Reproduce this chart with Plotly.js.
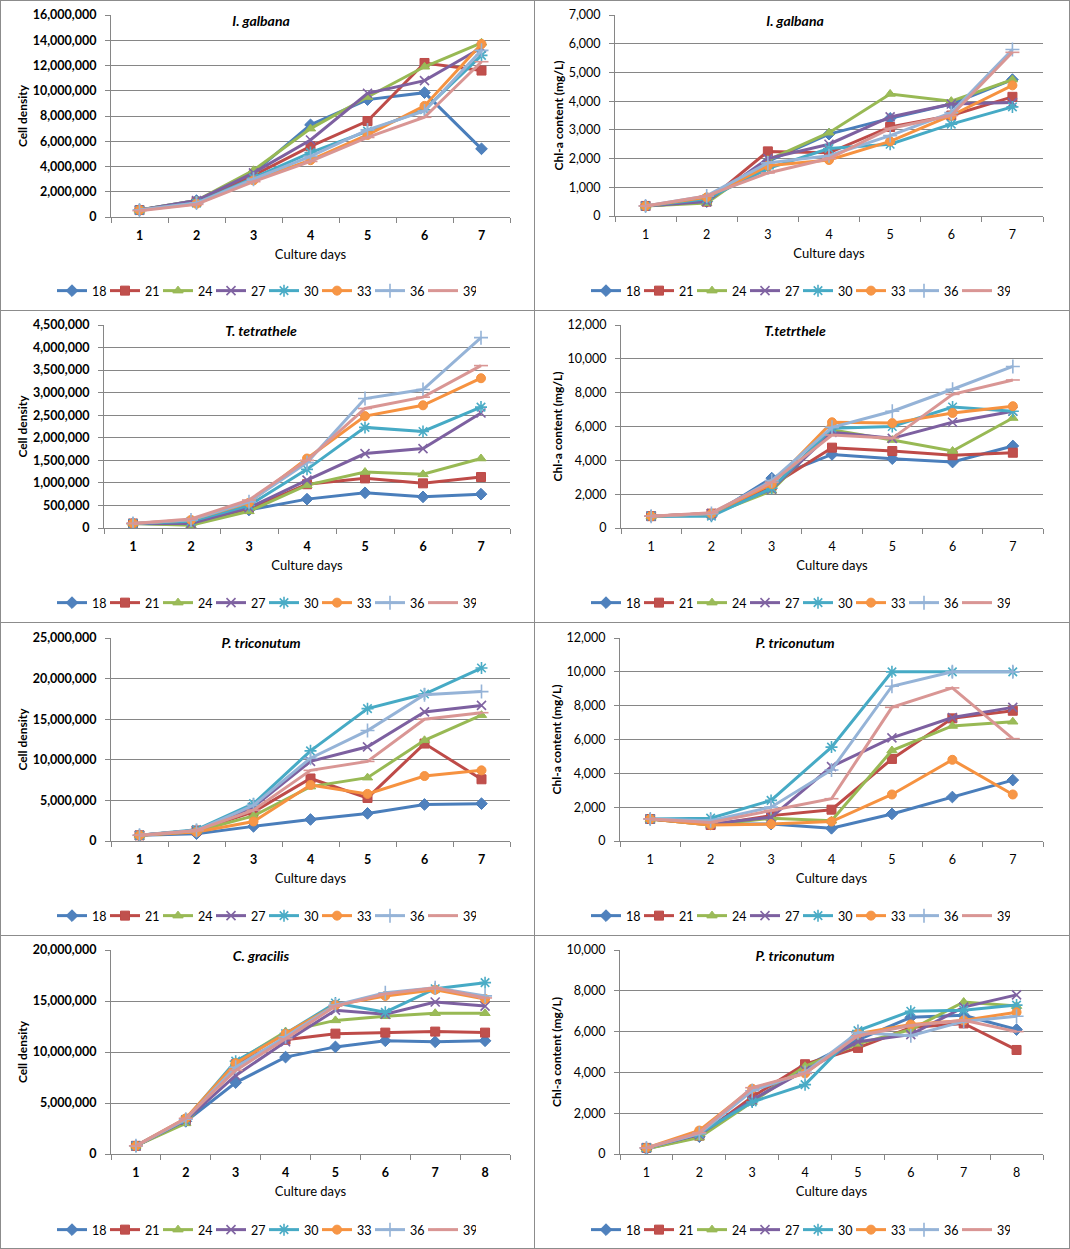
<!DOCTYPE html>
<html><head><meta charset="utf-8">
<script src="https://cdn.plot.ly/plotly-3.0.1.min.js"></script>
<style>
body{margin:0;background:#fff;}
#wrap{position:relative;width:1070px;height:1249px;overflow:hidden;background:#fff;}
.pl{position:absolute;}
.ln{position:absolute;background:#8c8c8c;pointer-events:none;}
</style></head>
<body><div id="wrap"></div>
<script>
// ---------- data ----------
const days7 = [1, 2, 3, 4, 5, 6, 7];
const days8 = [1, 2, 3, 4, 5, 6, 7, 8];
const seriesNames = ['18', '21', '24', '27', '30', '33', '36', '39'];

// I. galbana cell density (rows = series 18..39)
const igalbanaCell = [
  [550000, 1300000, 3500000, 7300000, 9300000, 9850000, 5400000],
  [550000, 1200000, 3300000, 5600000, 7600000, 12200000, 11600000],
  [550000, 1300000, 3700000, 7000000, 9500000, 11900000, 13800000],
  [550000, 1300000, 3500000, 6100000, 9800000, 10800000, 13400000],
  [550000, 1100000, 3100000, 5100000, 6800000, 8500000, 12800000],
  [550000, 1050000, 2900000, 4500000, 6500000, 8800000, 13700000],
  [550000, 1100000, 3000000, 4800000, 6900000, 8400000, 13200000],
  [500000, 1000000, 2800000, 4400000, 6300000, 7900000, 12300000]
];
// I. galbana Chl-a
const igalbanaChl = [
  [350, 500, 1900, 2850, 3400, 3900, 4750],
  [350, 500, 2250, 2200, 3100, 3500, 4150],
  [350, 450, 1950, 2900, 4250, 4000, 4750],
  [350, 500, 2000, 2500, 3450, 3900, 3950],
  [350, 600, 1650, 2350, 2500, 3200, 3800],
  [350, 650, 1750, 1950, 2600, 3500, 4550],
  [350, 700, 1850, 2100, 2800, 3600, 5800],
  [350, 700, 1500, 2000, 3050, 3500, 5700]
];
// T. tetrathele cell density
const tetratheleCell = [
  [100000, 80000, 400000, 640000, 780000, 690000, 750000],
  [100000, 100000, 420000, 970000, 1100000, 990000, 1130000],
  [100000, 60000, 370000, 950000, 1240000, 1190000, 1540000],
  [100000, 100000, 450000, 1060000, 1650000, 1760000, 2550000],
  [100000, 150000, 500000, 1300000, 2230000, 2140000, 2680000],
  [100000, 180000, 560000, 1540000, 2480000, 2720000, 3320000],
  [100000, 180000, 580000, 1450000, 2870000, 3070000, 4220000],
  [100000, 200000, 620000, 1500000, 2650000, 2900000, 3600000]
];
// T. tetrthele Chl-a
const tetratheleChl = [
  [700, 750, 2950, 4350, 4100, 3900, 4850],
  [700, 850, 2500, 4750, 4550, 4300, 4450],
  [700, 800, 2200, 5800, 5200, 4550, 6500],
  [700, 850, 2300, 5650, 5300, 6250, 6900],
  [700, 700, 2350, 5900, 6000, 7150, 6900],
  [700, 850, 2600, 6250, 6200, 6800, 7200],
  [700, 850, 2800, 5950, 6900, 8200, 9550],
  [700, 900, 2700, 5500, 5300, 7900, 8750]
];
// P. triconutum cell density
const triconutumCell = [
  [700000, 900000, 1800000, 2650000, 3400000, 4500000, 4600000],
  [700000, 1300000, 3600000, 7700000, 5300000, 12000000, 7600000],
  [700000, 1200000, 3100000, 6700000, 7800000, 12400000, 15500000],
  [700000, 1300000, 4200000, 9800000, 11600000, 15900000, 16700000],
  [700000, 1400000, 4600000, 11100000, 16300000, 18100000, 21300000],
  [700000, 1100000, 2400000, 6900000, 5800000, 8000000, 8700000],
  [700000, 1300000, 4400000, 10200000, 13600000, 18000000, 18400000],
  [700000, 1300000, 3800000, 8700000, 9800000, 15000000, 15800000]
];
// P. triconutum Chl-a (7 days)
const triconutumChl = [
  [1300, 1000, 1000, 750, 1600, 2600, 3600],
  [1300, 950, 1500, 1850, 4850, 7250, 7700],
  [1300, 950, 1350, 1200, 5350, 6800, 7050],
  [1300, 1000, 1400, 4400, 6100, 7300, 7900],
  [1300, 1350, 2400, 5550, 10000, 10000, 10000],
  [1300, 950, 1000, 1150, 2750, 4800, 2750],
  [1300, 1200, 2000, 4200, 9150, 10000, 10000],
  [1300, 1100, 1800, 2500, 7900, 9050, 6050]
];
// C. gracilis cell density
const gracilisCell = [
  [800000, 3200000, 7000000, 9500000, 10500000, 11100000, 11000000, 11100000],
  [800000, 3300000, 8800000, 11200000, 11800000, 11900000, 12000000, 11900000],
  [800000, 3000000, 9000000, 12000000, 13100000, 13500000, 13800000, 13800000],
  [800000, 3300000, 7700000, 11000000, 14100000, 13700000, 14900000, 14500000],
  [800000, 3400000, 9100000, 11800000, 14800000, 13900000, 16200000, 16800000],
  [800000, 3500000, 8900000, 11800000, 14600000, 15500000, 16100000, 15200000],
  [800000, 3400000, 8500000, 11500000, 14600000, 15800000, 16300000, 15500000],
  [800000, 3500000, 8200000, 11300000, 14500000, 15700000, 16300000, 15300000]
];
// P. triconutum Chl-a (8 days)
const triconutum8Chl = [
  [250, 850, 2600, 4300, 5600, 6700, 6800, 6100],
  [300, 900, 2800, 4400, 5200, 6200, 6400, 5100],
  [250, 800, 2550, 4300, 5400, 6100, 7450, 7250],
  [300, 950, 2650, 4100, 5500, 5850, 7200, 7800],
  [300, 1000, 2550, 3400, 6050, 7000, 7050, 7300],
  [300, 1150, 3200, 3950, 5900, 6350, 6550, 6950],
  [300, 1000, 3100, 4000, 5950, 5800, 6500, 6750],
  [300, 1050, 3250, 3950, 5800, 6300, 6550, 6000]
];

// ---------- styles ----------
const lineColors = ['#4A7EBB', '#BE4B48', '#98B954', '#7D60A0', '#46AAC5', '#F69240', '#95B3D7', '#D99694'];
const markerColors = ['#4F81BD', '#C0504D', '#9BBB59', '#8064A2', '#4BACC6', '#F79646', '#95B3D7', '#D99694'];
const symbols = ['diamond', 'square', 'triangle-up', 'x-thin-open', 'asterisk-open', 'circle', 'cross-thin-open', 'line-ew-open'];
const sizes = [9, 9, 9, 9, 10, 9, 10, 10];
const FONT = 'Lato, "Open Sans", sans-serif';
const GRID = '#868686';

const panels = [
  {title: 'I. galbana', ytitle: 'Cell density', data: igalbanaCell, days: days7, ymax: 16000000, dtick: 2000000, col: 0, row: 0, l: 111, r: 24, t: 15, b: 93, bold: true},
  {title: 'I. galbana', ytitle: 'Chl-a content (mg/L)', data: igalbanaChl, days: days7, ymax: 7000, dtick: 1000, col: 1, row: 0, l: 81, r: 27, t: 15, b: 94, bold: false},
  {title: 'T. tetrathele', ytitle: 'Cell density', data: tetratheleCell, days: days7, ymax: 4500000, dtick: 500000, col: 0, row: 1, l: 104, r: 24, t: 15, b: 94, bold: true},
  {title: 'T.tetrthele', ytitle: 'Chl-a content (mg/L)', data: tetratheleChl, days: days7, ymax: 12000, dtick: 2000, col: 1, row: 1, l: 87, r: 27, t: 15, b: 94, bold: false},
  {title: 'P. triconutum', ytitle: 'Cell density', data: triconutumCell, days: days7, ymax: 25000000, dtick: 5000000, col: 0, row: 2, l: 111, r: 24, t: 16, b: 94, bold: true},
  {title: 'P. triconutum', ytitle: 'Chl-a content (mg/L)', data: triconutumChl, days: days7, ymax: 12000, dtick: 2000, col: 1, row: 2, l: 86, r: 27, t: 16, b: 94, bold: false},
  {title: 'C. gracilis', ytitle: 'Cell density', data: gracilisCell, days: days8, ymax: 20000000, dtick: 5000000, col: 0, row: 3, l: 111, r: 24, t: 15, b: 95, bold: true},
  {title: 'P. triconutum', ytitle: 'Chl-a content (mg/L)', data: triconutum8Chl, days: days8, ymax: 10000, dtick: 2000, col: 1, row: 3, l: 86, r: 27, t: 15, b: 95, bold: false}
];

const colLeft = [0, 534], colW = [534, 536];
const rowTop = [0, 310, 622, 935], rowH = [310, 312, 313, 314];
const wrap = document.getElementById('wrap');

panels.forEach(function (p, idx) {
  const W = colW[p.col], H = rowH[p.row];
  const div = document.createElement('div');
  div.className = 'pl';
  div.style.left = colLeft[p.col] + 'px';
  div.style.top = rowTop[p.row] + 'px';
  div.style.width = W + 'px';
  div.style.height = H + 'px';
  wrap.appendChild(div);

  const plotW = W - p.l - p.r, plotH = H - p.t - p.b;
  const traces = p.data.map(function (vals, i) {
    return {
      x: p.days, y: vals, name: seriesNames[i], type: 'scatter', mode: 'lines+markers',
      line: {color: lineColors[i], width: 3},
      marker: {symbol: symbols[i], size: sizes[i], color: markerColors[i],
               line: {color: lineColors[i], width: (i === 3 || i === 4 || i === 6 || i === 7) ? 1.6 : 1}},
      hoverinfo: 'skip'
    };
  });
  const n = p.days.length;
  const tw = p.bold ? 700 : 400;
  const layout = {
    width: W, height: H,
    margin: {l: p.l, r: p.r, t: p.t, b: p.b, autoexpand: false},
    paper_bgcolor: 'rgba(0,0,0,0)', plot_bgcolor: 'rgba(0,0,0,0)',
    font: {family: FONT, color: '#000'},
    showlegend: true,
    title: {text: '<b><i>' + p.title + '</i></b>', font: {family: FONT, size: 14, color: '#000'},
            xref: 'container', yref: 'container', x: 261 / W, y: 1 - 21 / H, xanchor: 'center', yanchor: 'middle'},
    xaxis: {
      range: [0.5, n + 0.5], tickmode: 'array', tickvals: p.days, ticktext: p.days.map(String),
      ticks: '', showgrid: false, zeroline: false, showline: true, linecolor: GRID, linewidth: 1,
      ticklabelstandoff: 7,
      tickfont: {family: FONT, size: 12.5, color: '#000', weight: tw},
      minor: {ticks: 'outside', ticklen: 5, tickcolor: GRID, tickwidth: 1, tickmode: 'linear', tick0: 0.5, dtick: 1, showgrid: false},
      title: {text: 'Culture days', font: {family: FONT, size: 13, color: '#000'}, standoff: 7},
      fixedrange: true
    },
    yaxis: {
      range: [0, p.ymax], tickmode: 'linear', tick0: 0, dtick: p.dtick, tickformat: ',d',
      showgrid: true, gridcolor: GRID, gridwidth: 1, zeroline: false,
      showline: true, linecolor: GRID, linewidth: 1, ticks: 'outside', ticklen: 5, tickcolor: GRID,
      ticklabelstandoff: 6,
      tickfont: {family: FONT, size: 12.5, color: '#000', weight: tw},
      title: {text: '<b>' + p.ytitle + '</b>', font: {family: FONT, size: 12, color: '#000'}, standoff: 2},
      fixedrange: true
    },
    legend: {
      orientation: 'h', xref: 'paper', yref: 'paper',
      x: (52 - p.l) / plotW, xanchor: 'left',
      y: (19 - p.b) / plotH, yanchor: 'middle',
      entrywidth: 8, entrywidthmode: 'pixels',
      font: {family: FONT, size: 12.5, color: '#000'},
      bgcolor: 'rgba(0,0,0,0)', borderwidth: 0, traceorder: 'normal',
      itemclick: false, itemdoubleclick: false
    }
  };
  Plotly.newPlot(div, traces, layout, {staticPlot: true, displayModeBar: false});
});

// panel separator lines
function line(x, y, w, h) {
  const d = document.createElement('div');
  d.className = 'ln';
  d.style.left = x + 'px'; d.style.top = y + 'px';
  d.style.width = w + 'px'; d.style.height = h + 'px';
  wrap.appendChild(d);
}
[0, 534, 1069].forEach(function (x) { line(x, 0, 1, 1249); });
[0, 310, 622, 935, 1248].forEach(function (y) { line(0, y, 1070, 1); });
</script>
</body></html>
